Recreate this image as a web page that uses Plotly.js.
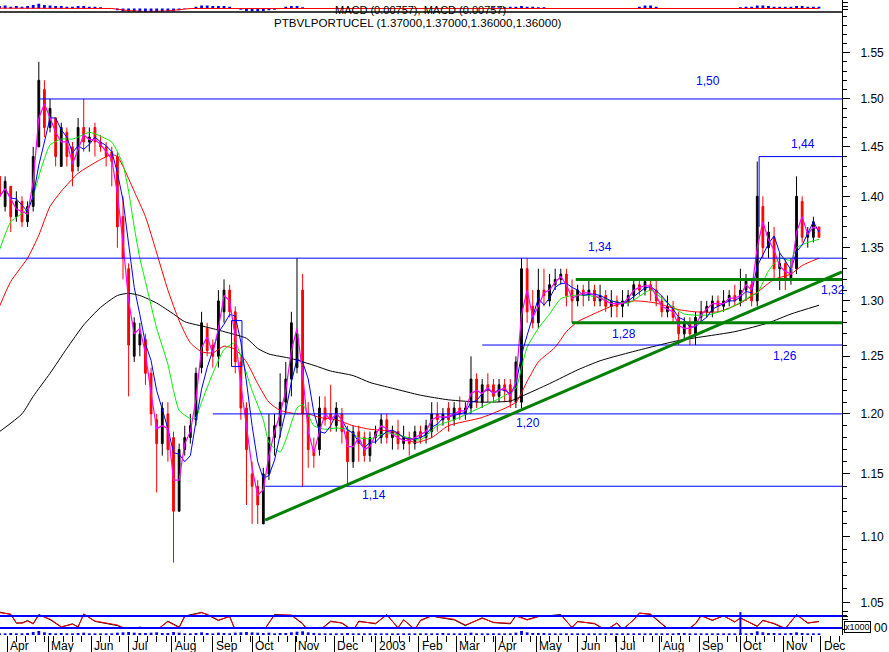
<!DOCTYPE html>
<html><head><meta charset="utf-8">
<script src="https://cdn.plot.ly/plotly-3.0.1.min.js"></script>
<style>html,body{margin:0;padding:0;background:#fff}#chart{width:889px;height:652px}</style>
</head><body><div id="chart"></div>
<script>
// ---------- DATA ----------
const startDate = '2002-03-26';   // first candle; one candle every 3 trading days
const candleStep = 3;
const opens = [1.42,1.39,1.41,1.38,1.395,1.375,1.39,1.45,1.51,1.47,1.48,1.43,1.465,1.45,1.43,1.47,1.455,1.47,1.455,1.45,
1.445,1.44,1.38,1.33,1.25,1.26,1.265,1.235,1.195,1.175,1.20,1.18,1.12,1.17,1.18,1.195,1.24,1.275,1.26,1.25,
1.29,1.31,1.29,1.245,1.205,1.15,1.14,1.11,1.15,1.18,1.19,1.21,1.23,1.24,1.31,1.20,1.17,1.17,1.205,1.20,
1.19,1.20,1.185,1.16,1.185,1.18,1.165,1.18,1.18,1.195,1.18,1.185,1.175,1.18,1.175,1.185,1.18,1.185,1.20,1.195,
1.205,1.195,1.205,1.20,1.205,1.23,1.21,1.225,1.225,1.215,1.225,1.225,1.21,1.21,1.33,1.295,1.28,1.31,1.30,1.315,
1.32,1.325,1.31,1.30,1.31,1.305,1.31,1.30,1.305,1.295,1.30,1.295,1.30,1.305,1.315,1.31,1.315,1.31,1.30,1.29,
1.295,1.285,1.27,1.28,1.27,1.285,1.29,1.29,1.30,1.295,1.30,1.305,1.30,1.31,1.315,1.30,1.39,1.35,1.36,1.33,
1.335,1.32,1.33,1.395,1.36,1.36,1.37];
const highs = [1.42,1.42,1.41,1.405,1.40,1.395,1.45,1.54,1.52,1.50,1.48,1.475,1.47,1.455,1.48,1.50,1.47,1.475,1.462,1.455,
1.45,1.445,1.40,1.335,1.285,1.28,1.27,1.24,1.20,1.21,1.21,1.185,1.175,1.19,1.20,1.24,1.29,1.28,1.265,1.31,
1.32,1.315,1.295,1.25,1.21,1.16,1.145,1.155,1.20,1.20,1.235,1.245,1.29,1.34,1.325,1.21,1.18,1.215,1.215,1.225,
1.21,1.205,1.19,1.19,1.19,1.185,1.185,1.19,1.20,1.20,1.19,1.195,1.19,1.185,1.19,1.19,1.195,1.21,1.21,1.205,
1.21,1.21,1.215,1.21,1.25,1.235,1.23,1.235,1.23,1.23,1.23,1.23,1.25,1.34,1.34,1.31,1.33,1.33,1.325,1.33,
1.33,1.33,1.32,1.315,1.315,1.32,1.315,1.315,1.31,1.31,1.305,1.31,1.31,1.32,1.32,1.32,1.32,1.32,1.305,1.305,
1.30,1.29,1.285,1.285,1.29,1.30,1.30,1.305,1.305,1.31,1.31,1.315,1.33,1.325,1.32,1.435,1.40,1.375,1.37,1.345,
1.34,1.34,1.42,1.40,1.37,1.38,1.37];
const lows = [1.39,1.385,1.365,1.375,1.37,1.37,1.385,1.45,1.46,1.465,1.43,1.43,1.43,1.41,1.425,1.445,1.445,1.44,1.445,1.43,
1.41,1.35,1.32,1.215,1.245,1.25,1.225,1.19,1.135,1.165,1.16,1.08,1.12,1.165,1.175,1.19,1.235,1.25,1.24,1.24,
1.28,1.285,1.235,1.195,1.125,1.11,1.11,1.11,1.145,1.165,1.18,1.20,1.215,1.235,1.14,1.155,1.155,1.165,1.19,1.185,
1.185,1.175,1.14,1.155,1.16,1.16,1.16,1.175,1.175,1.175,1.17,1.17,1.17,1.165,1.17,1.175,1.175,1.18,1.185,1.19,
1.185,1.19,1.195,1.195,1.20,1.205,1.205,1.21,1.21,1.21,1.21,1.205,1.205,1.205,1.28,1.275,1.275,1.295,1.295,1.31,
1.315,1.295,1.28,1.295,1.295,1.30,1.295,1.295,1.29,1.285,1.285,1.285,1.295,1.30,1.305,1.305,1.30,1.295,1.285,1.285,
1.28,1.26,1.265,1.26,1.26,1.28,1.285,1.285,1.29,1.29,1.295,1.295,1.295,1.30,1.295,1.295,1.34,1.34,1.32,1.31,
1.31,1.315,1.325,1.355,1.35,1.355,1.36];
const closes = [1.40,1.415,1.38,1.395,1.375,1.39,1.44,1.52,1.47,1.49,1.44,1.47,1.44,1.425,1.47,1.455,1.46,1.455,1.45,1.44,
1.435,1.37,1.34,1.26,1.28,1.27,1.235,1.20,1.175,1.205,1.17,1.12,1.17,1.18,1.19,1.235,1.28,1.255,1.25,1.30,
1.31,1.29,1.245,1.205,1.17,1.14,1.125,1.15,1.18,1.19,1.21,1.23,1.28,1.27,1.20,1.17,1.165,1.205,1.195,1.195,
1.205,1.185,1.16,1.185,1.175,1.165,1.18,1.185,1.195,1.18,1.185,1.175,1.18,1.175,1.185,1.18,1.19,1.20,1.195,1.20,
1.195,1.205,1.20,1.205,1.23,1.21,1.225,1.22,1.215,1.225,1.22,1.21,1.245,1.33,1.29,1.28,1.31,1.305,1.315,1.32,
1.325,1.305,1.30,1.31,1.305,1.31,1.30,1.305,1.295,1.30,1.295,1.30,1.305,1.315,1.31,1.318,1.31,1.30,1.29,1.295,
1.285,1.27,1.28,1.27,1.285,1.29,1.295,1.30,1.295,1.30,1.305,1.30,1.31,1.32,1.30,1.40,1.35,1.365,1.33,1.335,
1.32,1.33,1.40,1.36,1.365,1.375,1.36];

// long moving averages (candle index, price)
const redIdx = [0,2,5,7,9,11,14,18,20,21,22,24,26,28,30,32,34,36,38,40,42,44,46,48,50,53,55,57,60,63,66,70,74,77,80,86,92,94,96,99,101,103,105,109,113,117,121,124,128,132,135,138,141,143,146];
const redVal = [1.295,1.318,1.34,1.362,1.39,1.405,1.423,1.437,1.442,1.44,1.43,1.405,1.38,1.345,1.31,1.282,1.262,1.254,1.253,1.259,1.256,1.245,1.226,1.21,1.203,1.20,1.20,1.197,1.195,1.19,1.187,1.185,1.176,1.18,1.19,1.197,1.21,1.228,1.245,1.258,1.272,1.281,1.286,1.295,1.30,1.298,1.292,1.29,1.29,1.298,1.308,1.32,1.325,1.333,1.34];
const blackIdx = [0,4,6,9,12,15,18,21,23,25,28,31,33,37,40,44,46,48,52,56,59,63,66,70,75,80,86,91,93,98,103,107,112,121,131,137,141,146];
const blackVal = [1.185,1.20,1.215,1.235,1.257,1.278,1.294,1.305,1.307,1.305,1.298,1.288,1.281,1.276,1.272,1.266,1.257,1.252,1.248,1.242,1.237,1.233,1.227,1.222,1.216,1.212,1.21,1.211,1.215,1.226,1.238,1.246,1.253,1.264,1.272,1.28,1.288,1.296];
const greenIdx = [0,2,4,5,6,7,8,9,11,13,14,16,18,20,21,22,23,24,25,26,28,30,31,32,34,35,36,38,40,42,43,45,47,48,50,51,53,54,56,58,60,62,64,66,69,72,75,78,81,86,89,92,93,94,96,98,100,102,105,109,112,116,119,122,126,130,134,135,137,139,141,142,144,146];
const greenVal = [1.348,1.375,1.383,1.388,1.40,1.42,1.438,1.452,1.458,1.458,1.46,1.465,1.461,1.455,1.445,1.432,1.405,1.37,1.34,1.318,1.275,1.243,1.22,1.203,1.196,1.197,1.21,1.235,1.256,1.262,1.25,1.22,1.195,1.176,1.168,1.178,1.205,1.208,1.19,1.187,1.188,1.187,1.18,1.179,1.184,1.181,1.178,1.19,1.195,1.206,1.213,1.222,1.24,1.258,1.275,1.288,1.302,1.305,1.305,1.30,1.298,1.31,1.298,1.288,1.287,1.293,1.305,1.307,1.328,1.34,1.338,1.35,1.355,1.358];

// lower oscillator panel (candle index, value 0-100)
const oscIdx = [0,2,3,4,5,6,7,8,9,11,13,14,15,17,19,21,23,25,28,30,32,33,36,37,39,41,42,44,47,49,52,54,55,57,59,61,63,64,67,69,71,72,74,75,77,78,81,83,86,88,91,92,94,96,98,100,102,103,106,108,110,111,113,114,116,119,122,124,125,127,129,131,132,135,136,138,140,142,144,146];
const oscRed = [81,76.7,47.7,45.7,53.3,43.3,73.3,67.7,60,34.3,42.3,34.3,75.7,53.3,45.7,40,23.3,31,23.3,51,31,67.7,81,75.7,56.7,67.7,23.3,31,20,73.3,73.3,45.7,21,21,51,47.7,21,51,45.7,73.3,31,56.7,25.7,54.3,70,67.7,59,40,62.3,49,45.7,70,56.7,67.7,70,73.3,32.3,51,45.7,23.3,45.7,25.7,56.7,79,76.7,29,17.7,43.3,70,56.7,70,51,62.3,36.7,54.3,45.7,29,73.3,47.7,51];
const oscBlack = [83,75,46,47,55,45,75,66,58,33,44,33,77,52,44,38,22,33,22,53,33,70,82,74,55,69,22,30,19,75,72,44,20,22,53,46,20,53,44,75,30,58,24,56,71,66,57,38,64,48,44,72,58,69,71,75,31,52,44,22,47,24,58,80,75,27,16,45,72,55,71,50,64,35,56,44,27,75,46,52];
const oscLevels = [70, 30];
const volume = [5,5,6,5,5,6,9,12,8,6, 5,6,5,5,6,7,5,5,5,5, 5,7,8,9,7,6,6,7,8,6, 6,9,7,5,5,6,8,6,5,7,
6,5,7,8,9,8,7,6,7,5, 6,6,8,10,11,8,6,5,5,5, 5,5,6,5,5,5,5,5,5,5, 5,5,5,5,5,5,5,5,5,6,
5,5,5,5,7,5,5,5,5,5, 5,5,7,12,8,6,6,6,5,5, 5,5,5,5,5,5,5,5,5,5, 5,5,5,5,5,5,5,5,5,5,
5,6,6,5,5,5,5,5,5,5, 5,5,6,5,6,11,8,6,6,5, 5,6,8,6,5,5,5];
// squeezed MACD strip at the top
const macdHist = [.4,.5,.3,.4,.3,.4,.6,.8,.6,.5, .4,.4,.3,.3,.4,.4,.3,.3,.2,.1, 0,-.3,-.6,-.9,-1,-1,-.9,-.8,-.7,-.6,
-.5,-.5,-.3,-.1,.1,.3,.5,.5,.4,.4, .4,.3,.1,-.2,-.4,-.5,-.5,-.4,-.3,-.2, .1,.3,.4,.4,.2,0,0,0,.05,0,
0,0,0,0,0,0,0,0,0,0, 0,0,0,0,0,0,0,0,.05,.05, .05,.05,.05,.05,.1,.1,.1,.1,.2,.2, .2,.3,.3,.4,.3,.3,.2,.2,.1,.1,
.1,0,0,0,0,0,0,0,0,0, 0,0,0,0,.3,.5,.5,.3,0,0, 0,0,0,0,0,0,0,0,0,0, 0,0,.2,.3,.3,.5,.5,.4,.3,.3,
.3,.3,.4,.4,.3,.3,.3];
const macdSigIdx = [0,20,23,26,30,34,146];
const macdSigVal = [0.05,0,-0.35,-0.5,-0.4,0,0];

// horizontal support / resistance levels
const levelPrices = [1.50,1.44,1.34,1.32,1.28,1.26,1.20,1.14];
const levelLabels = ['1,50','1,44','1,34','1,32','1,28','1,26','1,20','1,14'];
const levelStarts = ['2002-04-24','2003-10-15',null,'2003-05-30','2003-05-28','2003-03-21','2002-09-02','2002-10-10'];
const levelLabelAt = ['2003-09-05 17:00','2003-11-17 10:00','2003-06-17 22:00','2003-12-09 12:00','2003-07-04 19:00','2003-11-03 19:00','2003-04-24 12:00','2002-12-31 05:00'];
const trendStart = ['2002-10-10', 1.113];
const trendEndPrice = 1.327;
const boxDates = ['2002-09-16','2002-09-23 14:00'];
const boxPrices = [1.241, 1.282];
const markerDate = '2003-10-01';

const monthTicks = ['2002-04-01','2002-05-01','2002-06-03','2002-07-01','2002-08-01','2002-09-02','2002-10-01','2002-11-01','2002-12-02','2003-01-01','2003-02-03','2003-03-03','2003-04-01','2003-05-01','2003-06-02','2003-07-01','2003-08-01','2003-09-01','2003-10-01','2003-11-03','2003-12-01'];
const monthLabels = ['Apr','May','Jun','Jul','Aug','Sep','Oct','Nov','Dec','2003','Feb','Mar','Apr','May','Jun','Jul','Aug','Sep','Oct','Nov','Dec'];
const priceTicks = [1.05,1.10,1.15,1.20,1.25,1.30,1.35,1.40,1.45,1.50,1.55];
const xRange = ['2002-03-26 06:14','2003-12-16 07:12'];

// ---------- BUILD ----------
function addBusinessDays(s, n) {
  const d = new Date(s + 'T00:00:00Z');
  let c = 0;
  while (c < n) { d.setUTCDate(d.getUTCDate() + 1); const w = d.getUTCDay(); if (w !== 0 && w !== 6) c++; }
  return d.toISOString().slice(0, 10);
}
const dates = closes.map((_, k) => addBusinessDays(startDate, candleStep * k));
function sma(a, w) {
  return a.map((_, i) => { const s = a.slice(Math.max(0, i - w + 1), i + 1); return s.reduce((p, q) => p + q, 0) / s.length; });
}
const pick = idx => idx.map(i => dates[i]);
const FONT = 'Liberation Sans, Arial, Helvetica, sans-serif';

const traces = [
  {type:'candlestick', x:dates, open:opens, high:highs, low:lows, close:closes,
   increasing:{line:{color:'#000000', width:1}, fillcolor:'#000000'},
   decreasing:{line:{color:'#ff0000', width:1}, fillcolor:'#ff0000'},
   whiskerwidth:0, hoverinfo:'skip', xaxis:'x', yaxis:'y'},
  {type:'scatter', mode:'lines', x:pick(blackIdx), y:blackVal, line:{color:'#000000', width:1, shape:'spline', smoothing:0.6}, xaxis:'x', yaxis:'y'},
  {type:'scatter', mode:'lines', x:pick(redIdx), y:redVal, line:{color:'#ff0000', width:1, shape:'spline', smoothing:0.6}, xaxis:'x', yaxis:'y'},
  {type:'scatter', mode:'lines', x:pick(greenIdx), y:greenVal, line:{color:'#00ee00', width:1, shape:'spline', smoothing:0.5}, xaxis:'x', yaxis:'y'},
  {type:'scatter', mode:'lines', x:dates, y:sma(closes, 4), line:{color:'#0000ff', width:1}, xaxis:'x', yaxis:'y'},
  {type:'scatter', mode:'lines', x:dates, y:sma(closes, 2), line:{color:'#ff00ff', width:1.2}, xaxis:'x', yaxis:'y'},
  // oscillator
  {type:'scatter', mode:'lines', x:pick(oscIdx), y:oscBlack, line:{color:'#000000', width:1}, xaxis:'x', yaxis:'y2'},
  {type:'scatter', mode:'lines', x:pick(oscIdx), y:oscRed, line:{color:'#ff0000', width:1}, xaxis:'x', yaxis:'y2'},
  {type:'bar', x:dates, y:volume, marker:{color:'#0000ff', line:{width:0}}, xaxis:'x', yaxis:'y3'},
  // top squeezed MACD
  {type:'bar', x:dates, y:macdHist, marker:{color:'#0000ff', line:{width:0}}, xaxis:'x', yaxis:'y4'},
  {type:'scatter', mode:'lines', x:pick(macdSigIdx), y:macdSigVal, line:{color:'#ff0000', width:1}, xaxis:'x', yaxis:'y4'}
];

const shapes = [];
const annotations = [];
const levelStyle = [
  {c:'#0000ff', w:1},{c:'#0000ff', w:1},{c:'#0000ff', w:1},{c:'#008000', w:3},
  {c:'#008000', w:3},{c:'#0000ff', w:1},{c:'#0000ff', w:1},{c:'#0000ff', w:1}];
const labelShift = [18, 13, 11, -11, -11, -11, -9, -9];
levelPrices.forEach((p, i) => {
  shapes.push({type:'line', xref:'x', yref:'y', x0: levelStarts[i] || xRange[0], x1: xRange[1], y0:p, y1:p,
    line:{color:levelStyle[i].c, width:levelStyle[i].w}});
  annotations.push({xref:'x', yref:'y', x:levelLabelAt[i], y:Math.log10(p), yshift:labelShift[i], text:levelLabels[i],
    showarrow:false, font:{family:FONT, size:12, color:'#0000ff'}});
});
shapes.push({type:'line', xref:'x', yref:'y', x0:levelStarts[1], x1:levelStarts[1], y0:1.44, y1:1.37, line:{color:'#0000ff', width:1}});
shapes.push({type:'line', xref:'x', yref:'y', x0:trendStart[0], y0:trendStart[1], x1:xRange[1], y1:trendEndPrice, line:{color:'#008000', width:3}});
shapes.push({type:'rect', xref:'x', yref:'y', x0:boxDates[0], x1:boxDates[1], y0:boxPrices[0], y1:boxPrices[1], line:{color:'#0000ff', width:1}, fillcolor:'rgba(0,0,0,0)'});
oscLevels.forEach(v => shapes.push({type:'line', xref:'paper', yref:'y2', x0:0, x1:1, y0:v, y1:v, line:{color:'#0000ff', width:2}}));
shapes.push({type:'line', xref:'x', yref:'y2', x0:markerDate, x1:markerDate, y0:12, y1:83, line:{color:'#0000ff', width:2}});
shapes.push({type:'line', xref:'paper', yref:'paper', x0:0, x1:1, y0:623/635, y1:623/635, line:{color:'#000000', width:1.5}});

// month labels just right of their tick marks
monthTicks.forEach((d, i) => annotations.push({xref:'x', yref:'paper', x:d, y:-11/635, xanchor:'left', yanchor:'middle', xshift:1,
  text:monthLabels[i], showarrow:false, font:{family:FONT, size:12, color:'#000'}}));

annotations.push({xref:'paper', yref:'paper', x:420/842, y:1 - 10/635, text:'MACD (0.00757), MACD (0.00757)', showarrow:false, font:{family:FONT, size:11, color:'#000'}, yanchor:'middle'});
annotations.push({xref:'paper', yref:'paper', x:418/842, y:1 - 22.5/635, text:'PTBVLPORTUCEL (1.37000,1.37000,1.36000,1.36000)', showarrow:false, font:{family:FONT, size:11.6, color:'#000'}, yanchor:'middle'});
annotations.push({xref:'paper', yref:'paper', x:844/842, y:8/635, xanchor:'left', yanchor:'middle', text:'x1000', showarrow:false, font:{family:FONT, size:9, color:'#000'}, bordercolor:'#000', borderwidth:1, borderpad:0});
annotations.push({xref:'paper', yref:'paper', x:872/842, y:7/635, xanchor:'left', yanchor:'middle', text:'00', showarrow:false, font:{family:FONT, size:12, color:'#000'}});

const minorVals = [];
for (let i = 103; i <= 159; i++) { if (i % 5 !== 0) minorVals.push(i / 100); }

const layout = {
  width:889, height:652,
  margin:{l:0, r:47, t:0, b:17, pad:0},
  paper_bgcolor:'#ffffff', plot_bgcolor:'#ffffff',
  showlegend:false, bargap:0.5, boxgap:0.55,
  font:{family:FONT, size:12, color:'#000'},
  xaxis:{type:'date', range:xRange, rangebreaks:[{bounds:['sat','mon']}], rangeslider:{visible:false},
    tickmode:'array', tickvals:monthTicks, ticktext:monthLabels, ticks:'outside', ticklen:17, tickcolor:'#000', tickwidth:1,
    showticklabels:false, showgrid:false, zeroline:false, showline:false, anchor:'y',
    minor:{ticks:'outside', ticklen:6, tickcolor:'#000', dtick:604800000, tick0:'2002-03-25', showgrid:false}},
  yaxis:{type:'log', domain:[0, 623/635], range:[0.01113, 0.20286], side:'right', anchor:'x',
    showline:true, linecolor:'#000', linewidth:1, ticks:'outside', ticklen:7, tickcolor:'#000',
    tickmode:'array', tickvals:priceTicks, ticktext:priceTicks.map(v => v.toFixed(2)),
    ticklabelstandoff:8, tickfont:{family:FONT, size:12, color:'#000'},
    showgrid:false, zeroline:false,
    minor:{tickmode:'array', tickvals:minorVals, ticks:'outside', ticklen:4, tickcolor:'#000', showgrid:false}},
  yaxis2:{domain:[0, 29/635], range:[6.67, 103.33], side:'right', anchor:'x', showgrid:false, zeroline:false, showline:false,
    ticks:'outside', ticklen:5, tickcolor:'#000', tickmode:'array', tickvals:[84,70,57], showticklabels:false},
  yaxis3:{domain:[0, 8/635], range:[0, 24], anchor:'x', visible:false},
  yaxis4:{domain:[1 - 11.5/635, 1], range:[-0.5, 1.417], side:'right', anchor:'x', showline:true, linecolor:'#000',
    ticks:'outside', ticklen:5, tickcolor:'#000', tickmode:'array', tickvals:[-0.2, 0.4, 1.0], showticklabels:false,
    showgrid:false, zeroline:false},
  shapes:shapes, annotations:annotations
};

Plotly.newPlot('chart', traces, layout, {staticPlot:true, displayModeBar:false});
</script>
</body></html>
